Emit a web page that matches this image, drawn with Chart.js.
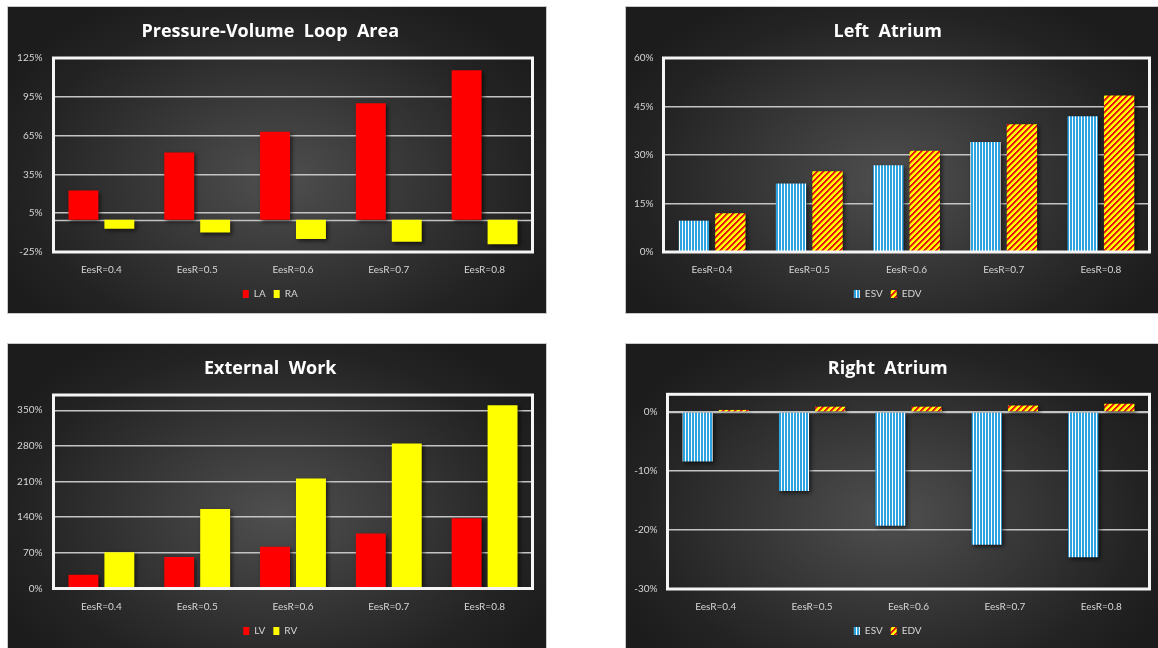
<!DOCTYPE html>
<html>
<head>
<meta charset="utf-8">
<script src="https://cdn.jsdelivr.net/npm/chart.js@4.4.1/dist/chart.umd.min.js"></script>
<style>
  body { margin: 0; background: #fff; width: 1158px; height: 648px; overflow: hidden; position: relative; }
  .panel {
    position: absolute;
    outline: 1px solid #c9c9c9;
    background: radial-gradient(ellipse 58% 68% at 50% 56%, #4f4f4f 0%, #363636 45%, #232323 80%, #1c1c1c 100%);
  }
  .panel canvas { display: block; }
</style>
</head>
<body>
<div class="panel" style="left:8px;top:7px;width:538px;height:306px"><canvas id="pvLoop" width="538" height="306"></canvas></div>
<div class="panel" style="left:626px;top:7px;width:532px;height:306px"><canvas id="leftAtrium" width="532" height="306"></canvas></div>
<div class="panel" style="left:8px;top:344px;width:538px;height:304px"><canvas id="extWork" width="538" height="304"></canvas></div>
<div class="panel" style="left:626px;top:344px;width:532px;height:304px"><canvas id="rightAtrium" width="532" height="304"></canvas></div>

<script>
// categories shared by all four charts
const categories = ["EesR=0.4", "EesR=0.5", "EesR=0.6", "EesR=0.7", "EesR=0.8"];

// Pressure-Volume Loop Area (%)
const pvLA = [22.5, 52, 68, 90, 115.5];
const pvRA = [-7, -10, -15, -17, -19];
const pvTicks = [-25, 5, 35, 65, 95, 125];

// Left Atrium (%)
const laESV = [9.7, 21.2, 26.8, 34, 42];
const laEDV = [12, 25, 31.3, 39.5, 48.4];
const laTicks = [0, 15, 30, 45, 60];

// External Work (%)
const ewLV = [27, 62, 82, 108, 138];
const ewRV = [71, 156, 216, 285, 360];
const ewTicks = [0, 70, 140, 210, 280, 350];

// Right Atrium (%)
const raESV = [-8.4, -13.4, -19.3, -22.5, -24.6];
const raEDV = [0.35, 0.9, 0.9, 1.1, 1.4];
const raTicks = [-30, -20, -10, 0];

const RED = "#ff0000";
const YELLOW = "#ffff00";
const LABEL = "#d6d6d6";
const GRID = "#c4c4c4";

// small repeating fills for the striped series
function makePattern(w, h, paint) {
  const c = document.createElement("canvas");
  c.width = w;
  c.height = h;
  const g = c.getContext("2d");
  paint(g);
  return g.createPattern(c, "repeat");
}

const blueStripes = makePattern(3, 2, (g) => {
  g.fillStyle = "#2fa2e0";
  g.fillRect(0, 0, 3, 2);
  g.fillStyle = "#ffffff";
  g.fillRect(2, 0, 1, 2);
});

const redYellowHatch = makePattern(6, 6, (g) => {
  for (let x = 0; x < 6; x++) {
    for (let y = 0; y < 6; y++) {
      const k = (x + y) % 6;
      g.fillStyle = k < 2 ? "#e81010" : k === 2 ? "#f47a0a" : YELLOW;
      g.fillRect(x, y, 1, 1);
    }
  }
});

// white frame round the plot area, zero line, and bar shadows
const plotFrame = {
  id: "plotFrame",
  beforeDatasetsDraw(chart) {
    const { ctx, chartArea: a, scales } = chart;
    const y = scales.y;
    if (y.min < 0 && y.max > 0) {
      const y0 = Math.round(y.getPixelForValue(0)) + 0.5;
      ctx.save();
      ctx.strokeStyle = GRID;
      ctx.lineWidth = 1.5;
      ctx.beginPath();
      ctx.moveTo(a.left, y0);
      ctx.lineTo(a.right, y0);
      ctx.stroke();
      ctx.restore();
    }
    ctx.save();
    ctx.shadowColor = "rgba(0,0,0,0.6)";
    ctx.shadowBlur = 4;
    ctx.shadowOffsetX = 2;
    ctx.shadowOffsetY = 2;
  },
  afterDatasetsDraw(chart) {
    const { ctx, chartArea: a } = chart;
    ctx.restore();
    ctx.save();
    ctx.strokeStyle = "#f5f5f5";
    ctx.lineWidth = 3;
    ctx.strokeRect(a.left, a.top, a.right - a.left, a.bottom - a.top);
    ctx.restore();
  },
};

function buildChart(id, opts) {
  const ctx = document.getElementById(id);
  return new Chart(ctx, {
    type: "bar",
    data: {
      labels: categories,
      datasets: opts.series.map((s) => ({
        label: s.label,
        data: s.data,
        backgroundColor: s.fill,
        borderWidth: 0,
        categoryPercentage: 0.75,
        barPercentage: 0.833,
      })),
    },
    options: {
      responsive: false,
      animation: false,
      events: [],
      layout: { padding: { left: 0, right: opts.padRight, top: 0, bottom: opts.padBottom } },
      scales: {
        x: {
          grid: { display: false },
          border: { display: false },
          ticks: { color: LABEL, font: { family: "Lato", size: 10 }, padding: 4 },
          afterFit: (s) => { s.height = opts.xHeight; },
        },
        y: {
          min: opts.min,
          max: opts.max,
          grid: { color: GRID, lineWidth: 1.5, drawTicks: false },
          border: { display: false },
          ticks: {
            color: LABEL,
            font: { family: "Lato", size: 10 },
            padding: opts.yPad,
            callback: (v) => v + "%",
          },
          afterBuildTicks: (s) => { s.ticks = opts.ticks.map((v) => ({ value: v })); },
          afterFit: (s) => { s.width = opts.yWidth; },
        },
      },
      plugins: {
        title: {
          display: true,
          text: opts.title,
          color: "#ffffff",
          font: { family: "Open Sans", size: 18, weight: "bold" },
          padding: { top: 14.4, bottom: opts.titleGap },
        },
        legend: {
          position: "bottom",
          labels: {
            color: LABEL,
            font: { family: "Lato", size: 10 },
            boxWidth: 6,
            boxHeight: 8,
            padding: 8,
          },
        },
        tooltip: { enabled: false },
      },
    },
    plugins: [plotFrame],
  });
}

buildChart("pvLoop", {
  title: "Pressure-Volume  Loop  Area",
  series: [
    { label: "LA", data: pvLA, fill: RED },
    { label: "RA", data: pvRA, fill: YELLOW },
  ],
  min: -25, max: 125, ticks: pvTicks,
  yWidth: 45.5, yPad: 11, padRight: 13.5, padBottom: 4, xHeight: 29, titleGap: 15,
});

buildChart("leftAtrium", {
  title: "Left  Atrium",
  series: [
    { label: "ESV", data: laESV, fill: blueStripes },
    { label: "EDV", data: laEDV, fill: redYellowHatch },
  ],
  min: 0, max: 60, ticks: laTicks,
  yWidth: 37.5, yPad: 10, padRight: 8.5, padBottom: 4, xHeight: 29, titleGap: 15,
});

buildChart("extWork", {
  title: "External  Work",
  series: [
    { label: "LV", data: ewLV, fill: RED },
    { label: "RV", data: ewRV, fill: YELLOW },
  ],
  min: 0, max: 380, ticks: ewTicks,
  yWidth: 45.5, yPad: 11, padRight: 13.5, padBottom: 2, xHeight: 29.5, titleGap: 15,
});

buildChart("rightAtrium", {
  title: "Right  Atrium",
  series: [
    { label: "ESV", data: raESV, fill: blueStripes },
    { label: "EDV", data: raEDV, fill: redYellowHatch },
  ],
  min: -30, max: 3, ticks: raTicks,
  yWidth: 41.5, yPad: 10, padRight: 8.5, padBottom: 2, xHeight: 29, titleGap: 14.3,
});
</script>
</body>
</html>
